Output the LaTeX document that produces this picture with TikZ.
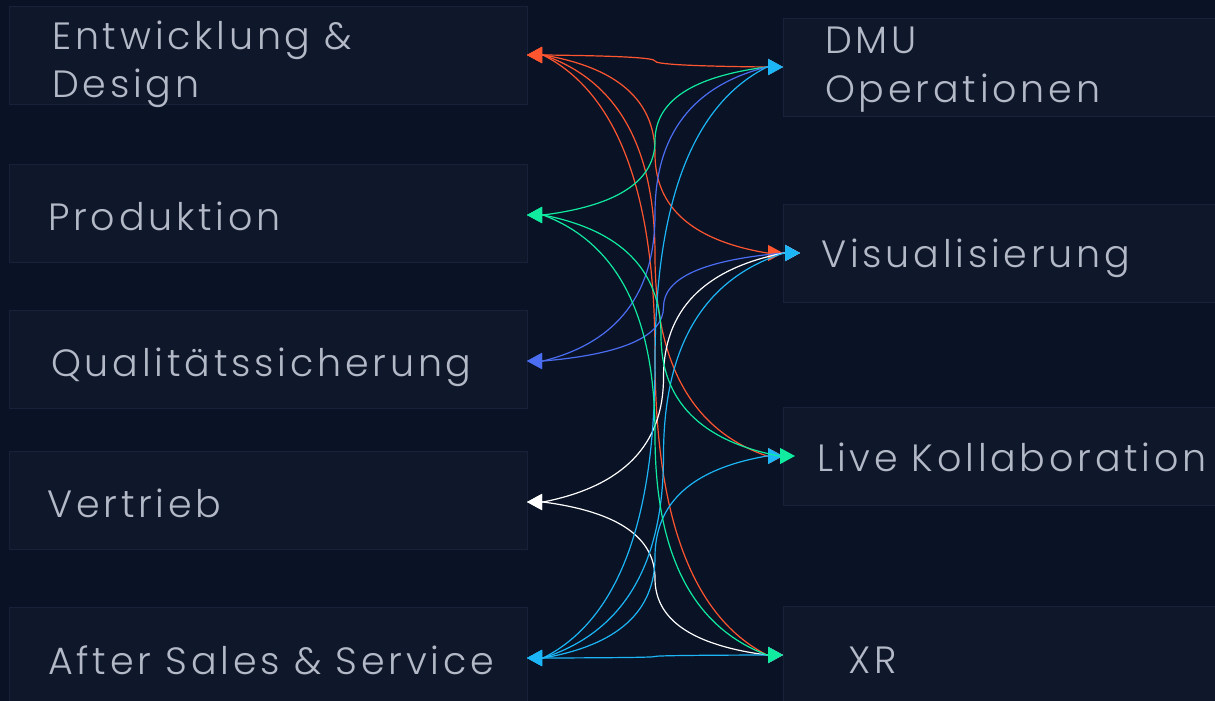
\documentclass[tikz,border=0pt]{standalone}
\usepackage{fontspec}
\newfontfamily\stagefont{Poppins}[UprightFont=* Light, LetterSpace=10]
\usetikzlibrary{arrows.meta,calc}

\definecolor{bg}{HTML}{0A1226}
\definecolor{boxfill}{HTML}{0F172B}
\definecolor{boxline}{HTML}{18213A}
\definecolor{labelgray}{HTML}{B3B9C6}
\definecolor{linkred}{HTML}{FF5630}
\definecolor{linkgreen}{HTML}{10EBA0}
\definecolor{linkblue}{HTML}{4A6DF2}
\definecolor{linkcyan}{HTML}{1CB6F6}

\tikzset{
  stage/.style={draw=boxline, fill=boxfill, minimum height=98pt, inner sep=0pt, outer sep=0pt},
  left stage/.style={stage, minimum width=518pt},
  right stage/.style={stage, minimum width=442pt},
  caption/.style={anchor=base west, align=left, text=labelgray, inner sep=0pt,
    font=\stagefont\fontsize{38}{48}\selectfont},
  % two halves that turn vertical half way between the boxes
  link/.style={line width=1.2pt, {Triangle[length=15pt,width=16pt]}-{Triangle[length=15pt,width=16pt]},
    to path={let \p1=(\tikztostart), \p2=(\tikztotarget), \p3=($(\p1)!0.5!(\p2)$) in
      -- ++(16pt,0)
      .. controls ({\x1+16pt+0.667*(\x3-\x1-16pt)},{\y1+0.127*(\y3-\y1)}) and (\x3,{\y3-0.54*(\y3-\y1)}) .. (\p3)
      .. controls (\x3,{\y3+0.54*(\y2-\y3)}) and ({\x2-16pt-0.667*(\x2-\x3-16pt)},{\y2-0.127*(\y2-\y3)}) .. ({\x2-16pt},\y2)
      -- (\tikztotarget)}},
}

\begin{document}
\begin{tikzpicture}[x=1pt, y=-1pt]
  \fill[bg] (0,0) rectangle (1215,701);
  \useasboundingbox (0,0) rectangle (1215,701);

  % departments
  \node[left stage] (entw) at (268,55) {};
  \node[left stage] (prod) at (268,213) {};
  \node[left stage] (qual) at (268,359) {};
  \node[left stage] (vert) at (268,500) {};
  \node[left stage] (after) at (268,656) {};

  % use cases
  \node[right stage] (dmu) at (1004,67) {};
  \node[right stage] (vis) at (1004,253) {};
  \node[right stage] (live) at (1004,456) {};
  \node[right stage] (xr) at (1004,655) {};

  \node[caption] (entwtext) at (52,97) {Entwicklung \&\\Design};
  \node[caption] (prodtext) at (48,230) {Produktion};
  \node[caption] (qualtext) at (51,376) {Qualitätssicherung};
  \node[caption] (verttext) at (47,517) {Vertrieb};
  \node[caption] (aftertext) at (48,674) {After Sales \& Service};
  \node[caption] (dmutext) at (825,102) {DMU\\Operationen};
  \node[caption] (vistext) at (821,267) {Visualisierung};
  \node[caption] (livetext) at (817,471) {Live Kollaboration};
  \node[caption] (xrtext) at (848,673) {XR};

  % links
  \draw[link, linkred] (entw.east) to (dmu.west);
  \draw[link, linkred] (entw.east) to (vis.west);
  \draw[link, linkred] (entw.east) to (live.west);
  \draw[link, linkred] (entw.east) to (xr.west);
  \draw[link, linkgreen] ([yshift=-2pt]prod.east) to (dmu.west);
  \draw[link, linkblue] ([yshift=-2pt]qual.east) to (dmu.west);
  \draw[link, linkblue] ([yshift=-2pt]qual.east) to ([xshift=17pt]vis.west);
  \draw[link, white] ([yshift=-2pt]vert.east) to ([xshift=17pt]vis.west);
  \draw[link, white] ([yshift=-2pt]vert.east) to (xr.west);
  \draw[link, linkcyan] ([yshift=-2pt]after.east) to (dmu.west);
  \draw[link, linkcyan] ([yshift=-2pt]after.east) to ([xshift=17pt]vis.west);
  \draw[link, linkcyan] ([yshift=-2pt]after.east) to (live.west);
  \draw[link, linkcyan] ([yshift=-2pt]after.east) to (xr.west);
  \draw[link, linkgreen] ([yshift=-2pt]prod.east) to ([xshift=12pt]live.west);
  \draw[link, linkgreen] ([yshift=-2pt]prod.east) to (xr.west);
\end{tikzpicture}
\end{document}
